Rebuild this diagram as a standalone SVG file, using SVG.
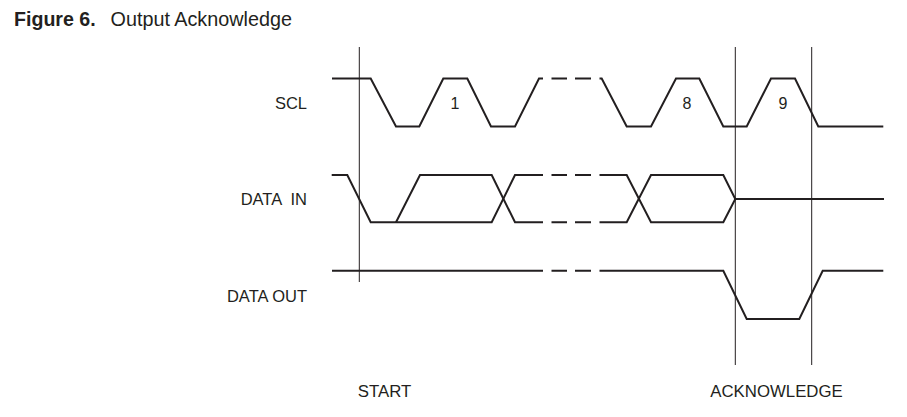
<svg xmlns="http://www.w3.org/2000/svg" width="907" height="417" viewBox="0 0 907 417">
<style>
.t{font-family:"Liberation Sans",Arial,sans-serif;fill:#231f20}
.lbl{font-size:16.5px;text-anchor:end}
.num{font-size:16px;text-anchor:middle}
.bot{font-size:16.8px;text-anchor:middle}
.w{fill:none;stroke:#231f20;stroke-width:2;stroke-linejoin:miter}
.v{fill:none;stroke:#231f20;stroke-width:1}
</style>
<rect width="907" height="417" fill="#fff"/>
<g id="title">
<text class="t" x="14" y="26" font-size="19.6"><tspan font-weight="bold">Figure 6.</tspan><tspan x="110.5" font-size="19.8">Output Acknowledge</tspan></text>
</g>
<g id="labels">
<text class="t lbl" x="307" y="109" font-size="17">SCL</text>
<text class="t lbl" x="307" y="205" xml:space="preserve">DATA  IN</text>
<text class="t lbl" x="307" y="302" font-size="16.8">DATA OUT</text>
<text class="t num" x="455" y="109">1</text>
<text class="t num" x="687" y="109">8</text>
<text class="t num" x="783" y="109">9</text>
<text class="t bot" x="384.5" y="397" font-size="16.3">START</text>
<text class="t bot" x="776.5" y="397" font-size="17">ACKNOWLEDGE</text>
</g>
<g id="markers">
<path class="v" d="M359.3,47V282 M735.3,47V365 M811.7,47V365"/>
</g>
<g id="scl">
<path class="w" d="M332,78.5H370.7L396,126.5H419.3L443.3,78.5H467.3L491,126.5H515L539,78.5H543"/>
<path class="w" d="M551.5,78.5H567M575,78.5H591"/>
<path class="w" d="M599.5,78.5H601.7L626.7,126.5H651L676,78.5H699.3L723.3,126.5H746.7L771,78.5H795L818.3,126.5H883.3"/>
</g>
<g id="data-in">
<path class="w" d="M331.7,175H347.3L370.7,222.3H491.7L515,175H543"/>
<path class="w" d="M396,222.3L420,175H491.7L515,222.3H543"/>
<path class="w" d="M551.5,175H567M575,175H591M551.5,222.3H567M575,222.3H591"/>
<path class="w" d="M599.5,175H626.7L651,222.3H723.3L735.3,199H884"/>
<path class="w" d="M599.5,222.3H626.7L651,175H723.3L735.3,199"/>
</g>
<g id="data-out">
<path class="w" d="M332,270.7H543M551.5,270.7H567M575,270.7H591"/>
<path class="w" d="M599.5,270.7H723.3L746.7,319H799.3L822.7,270.7H883.3"/>
</g>
</svg>
